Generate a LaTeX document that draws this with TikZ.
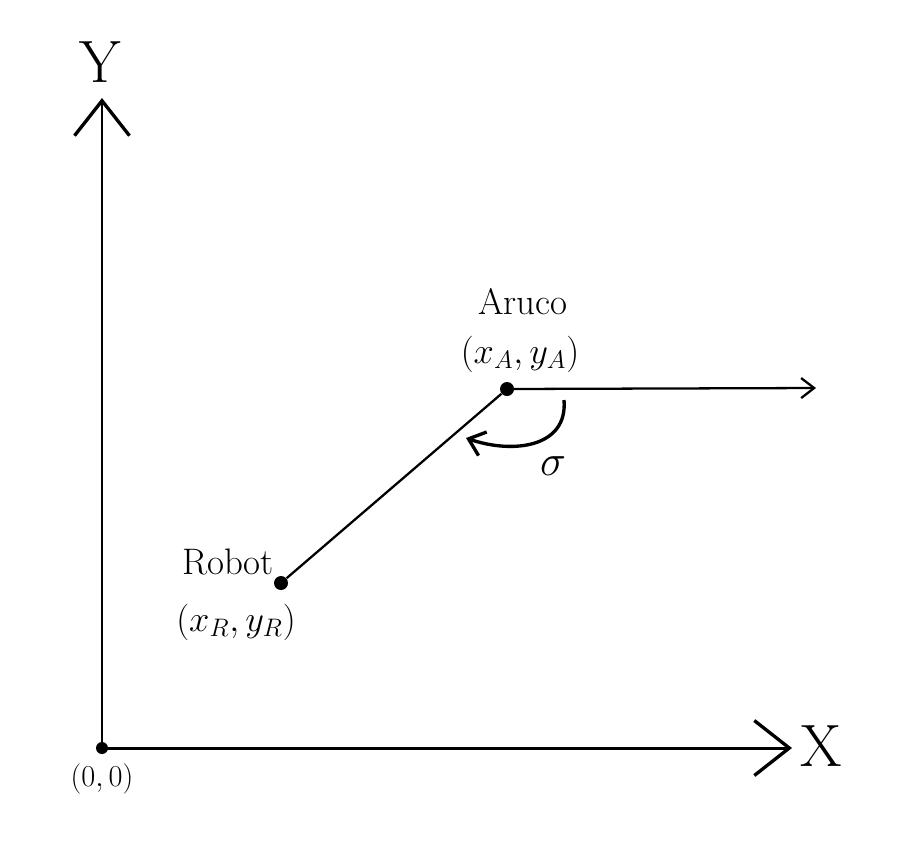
\documentclass[tikz,border=0pt]{standalone}
\usepackage{amsmath}
\usetikzlibrary{arrows.meta,positioning}

\begin{document}
\begin{tikzpicture}[
  x=0.02cm, y=-0.02cm,
  dot/.style={circle, fill, inner sep=0pt, minimum size=2.8mm},
  lbl/.style={font=\fontsize{21}{24}\selectfont, inner sep=1pt},
  axlbl/.style={font=\fontsize{34}{38}\selectfont, inner sep=0pt},
  axis/.style={line width=1.7pt, -{Straight Barb[length=7mm, width=11mm, line width=1.9pt]}},
  ray/.style={line width=1.3pt, -{Straight Barb[length=2.6mm, width=4mm]}},
  turn/.style={line width=1.9pt, -{Straight Barb[length=3mm, width=5mm, line width=1.9pt]}}]

\useasboundingbox (0,0) rectangle (901,853);

% axes
\node[dot, minimum size=2.4mm] (orig) at (102,748) {};
\coordinate (ytop) at (102,98);
\coordinate (xend) at (792,748);
\draw[axis] (orig.center) -- (ytop);
\draw[axis] (orig.center) -- (xend);
\node[axlbl] (ylab) at (100,62) {Y};
\node[axlbl, anchor=west] (xlab) at (800,746) {X};
\node[lbl, font=\fontsize{16}{19}\selectfont, below=4pt of orig] (origlab) {$(0,0)$};

% robot and marker
\node[dot] (robot) at (281,583) {};
\node[dot] (aruco) at (507,389) {};
\draw[line width=1.3pt] (robot) -- (aruco);
\node[lbl] (robotlab) at (228,562) {Robot};
\node[lbl] (robotpos) at (236,622) {$(x_R, y_R)$};
\node[lbl] (arucolab) at (523,302) {Aruco};
\node[lbl] (arucopos) at (520,354) {$(x_A, y_A)$};

% heading
\coordinate (rayend) at (816,388);
\draw[ray] (aruco.center) -- (rayend);
\coordinate (turnfrom) at (564,400);
\coordinate (turnto) at (466,438);
\draw[turn] (turnfrom) .. controls (568,448) and (512,454) .. (turnto);
\node[lbl, font=\fontsize{26}{30}\selectfont] (sig) at (553,466) {$\sigma$};
\end{tikzpicture}
\end{document}
